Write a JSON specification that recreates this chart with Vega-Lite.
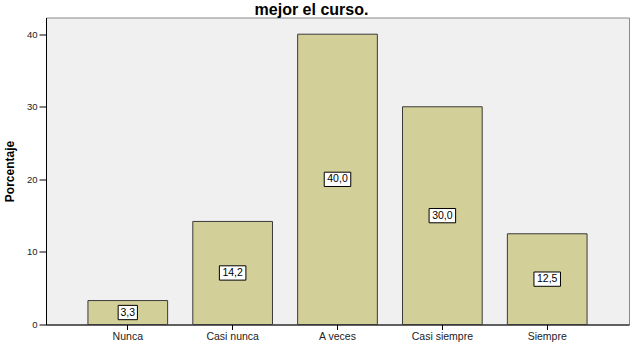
{
  "$schema": "https://vega.github.io/schema/vega-lite/v6.json",
  "width": 583,
  "height": 307,
  "autosize": {"type": "none"},
  "padding": {"left": 46, "top": 17.5, "right": 2, "bottom": 24.5},
  "background": "white",
  "config": {
    "locale": {"number": {"decimal": ",", "thousands": ".", "grouping": [3], "currency": ["", " €"]}},
    "view": {"fill": "#f0f0f0", "stroke": "#888888", "strokeWidth": 1},
    "font": "Liberation Sans",
    "axisY": {
      "grid": false,
      "titleFontSize": 12,
      "titleFontWeight": "bold",
      "titleColor": "black",
      "titlePadding": 10,
      "labelFontSize": 9.5,
      "labelColor": "#222222",
      "labelPadding": 2,
      "tickSize": 7,
      "tickColor": "black",
      "domainColor": "black",
      "domainWidth": 1
    }
  },
  "title": {
    "text": "mejor el curso.",
    "fontSize": 16,
    "fontWeight": "bold",
    "font": "Liberation Sans",
    "color": "black",
    "anchor": "middle",
    "frame": "group",
    "offset": 0,
    "dx": -26
  },
  "data": {
    "values": [
      {"respuesta": "Nunca", "porcentaje": 3.3},
      {"respuesta": "Casi nunca", "porcentaje": 14.2},
      {"respuesta": "A veces", "porcentaje": 40.0},
      {"respuesta": "Casi siempre", "porcentaje": 30.0},
      {"respuesta": "Siempre", "porcentaje": 12.5}
    ]
  },
  "encoding": {
    "x": {
      "field": "respuesta",
      "type": "nominal",
      "sort": null,
      "scale": {"paddingInner": 0.24, "paddingOuter": 0.4},
      "axis": {
        "title": null,
        "labelAngle": 0,
        "labelFontSize": 10.5,
        "labelColor": "#222222",
        "labelPadding": 2,
        "tickSize": 5,
        "tickColor": "black",
        "domainColor": "black",
        "domainWidth": 1
      }
    }
  },
  "layer": [
    {
      "mark": {"type": "bar", "fill": "#d3cf98", "stroke": "#3a3a3a", "strokeWidth": 1},
      "encoding": {
        "y": {
          "field": "porcentaje",
          "type": "quantitative",
          "title": "Porcentaje",
          "scale": {"domain": [0, 42.3], "nice": false},
          "axis": {"values": [0, 10, 20, 30, 40]}
        }
      }
    },
    {
      "transform": [{"calculate": "datum.porcentaje / 2", "as": "mitad"}],
      "mark": {
        "type": "point",
        "filled": true,
        "fill": "white",
        "stroke": "black",
        "strokeWidth": 1,
        "opacity": 1,
        "size": 676
      },
      "encoding": {
        "y": {"field": "mitad", "type": "quantitative", "title": "Porcentaje"},
        "shape": {
          "condition": {"test": "datum.porcentaje < 10", "value": "M-0.74,-0.55H0.74V0.55H-0.74Z"},
          "value": "M-1.02,-0.55H1.02V0.55H-1.02Z"
        }
      }
    },
    {
      "transform": [{"calculate": "datum.porcentaje / 2", "as": "mitad"}],
      "mark": {"type": "text", "fontSize": 10.5, "color": "black", "baseline": "middle"},
      "encoding": {
        "y": {"field": "mitad", "type": "quantitative", "title": "Porcentaje"},
        "text": {"field": "porcentaje", "type": "quantitative", "format": ".1f"}
      }
    }
  ]
}
